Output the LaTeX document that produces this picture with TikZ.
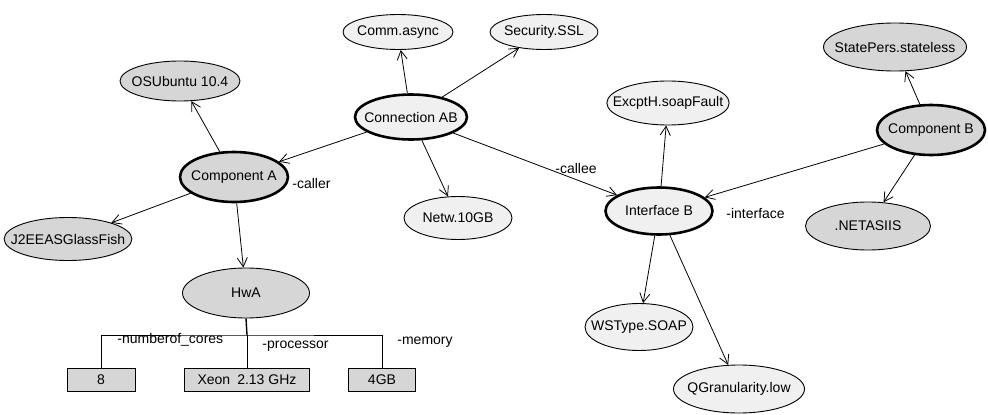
\documentclass[tikz,border=0pt]{standalone}
\usepackage{fontspec}
\setmainfont{Liberation Sans}
\usepackage{tikz}
\usetikzlibrary{positioning,shapes.geometric,arrows.meta}

\definecolor{darkfill}{HTML}{D6D6D6}
\definecolor{lightfill}{HTML}{F0F0F0}

\tikzset{
  every node/.style={font=\fontsize{14}{16}\selectfont},
  oval/.style={ellipse, draw, line width=0.9pt, inner xsep=-12pt, inner ysep=0pt},
  gattr/.style={oval, fill=darkfill},
  lattr/.style={oval, fill=lightfill},
  comp/.style={gattr, line width=2.6pt},
  conn/.style={lattr, line width=2.6pt},
  valbox/.style={rectangle, draw, line width=0.9pt, fill=darkfill, minimum height=23pt, inner sep=0pt},
  role/.style={inner sep=0pt}
}

\begin{document}
\begin{tikzpicture}[x=1pt, y=-1pt, >={Straight Barb[length=9pt,width=10pt]}, line width=0.8pt]
    \useasboundingbox (0,0) rectangle (988,415);

    % components and connector
    \node [comp, minimum width=108pt, minimum height=50pt] (compA) at (234,177) {Component A};
    \node [comp, minimum width=108pt, minimum height=50pt] (compB) at (931,130) {Component B};
    \node [conn, minimum width=112pt, minimum height=45pt] (connAB) at (411,117) {Connection AB};
    \node [conn, minimum width=107pt, minimum height=47pt] (ifaceB) at (659,211) {Interface B};

    % attributes of component A
    \node [gattr, minimum width=120pt, minimum height=40pt] (osUbuntu) at (180,81) {OSUbuntu 10.4};
    \node [gattr, minimum width=127pt, minimum height=43pt] (j2ee) at (68,239) {J2EEASGlassFish};
    \node [gattr, minimum width=127pt, minimum height=50pt] (hwA) at (246,293) {HwA};

    % attributes of the connector
    \node [lattr, minimum width=110pt, minimum height=35pt] (comm) at (398,32) {Comm.async};
    \node [lattr, minimum width=108pt, minimum height=35pt] (security) at (544,32) {Security.SSL};
    \node [lattr, minimum width=108pt, minimum height=43pt] (netw) at (458,218) {Netw.10GB};

    % attributes of interface B
    \node [lattr, minimum width=113pt, minimum height=44pt] (excpt) at (668,103) {ExcptH.soapFault};
    \node [lattr, minimum width=108pt, minimum height=47pt] (wsType) at (639,327) {WSType.SOAP};
    \node [lattr, minimum width=131pt, minimum height=48pt] (qGran) at (739,389) {QGranularity.low};

    % attributes of component B
    \node [gattr, minimum width=143pt, minimum height=48pt] (statePers) at (895,47) {StatePers.stateless};
    \node [gattr, minimum width=125pt, minimum height=48pt] (netIIS) at (868,226) {.NETASIIS};

    % hardware values
    \node [valbox, minimum width=68pt] (cores) at (101,380) {8};
    \node [valbox, minimum width=125pt] (xeon) at (247,380) {Xeon\enspace 2.13 GHz};
    \node [valbox, minimum width=67pt] (mem) at (382,380) {4GB};
    \coordinate (bus) at (247,335);

    % role labels
    \node [role, anchor=west] (lblCaller) at (292,183) {-caller};
    \node [role, anchor=west] (lblCallee) at (555,168) {-callee};
    \node [role, anchor=west] (lblIface) at (726,213) {-interface};
    \node [role, anchor=west] (lblCores) at (117,340) {-numberof\_cores};
    \node [role, anchor=west] (lblProc) at (262,346) {-processor};
    \node [role, anchor=west] (lblMem) at (397,342) {-memory};

    \foreach \a/\b in {compA/osUbuntu, compA/j2ee, compA/hwA,
                       connAB/compA, connAB/comm, connAB/security, connAB/netw, connAB/ifaceB,
                       ifaceB/excpt, ifaceB/wsType, ifaceB/qGran,
                       compB/statePers, compB/netIIS, compB/ifaceB}
      \draw [->] (\a) -- (\b);

    \draw [line width=1.4pt] (hwA.south) -- (bus);
    \draw (bus) -- (xeon.north);
    \draw (cores.north) |- (bus) -| (mem.north);
\end{tikzpicture}
\end{document}
